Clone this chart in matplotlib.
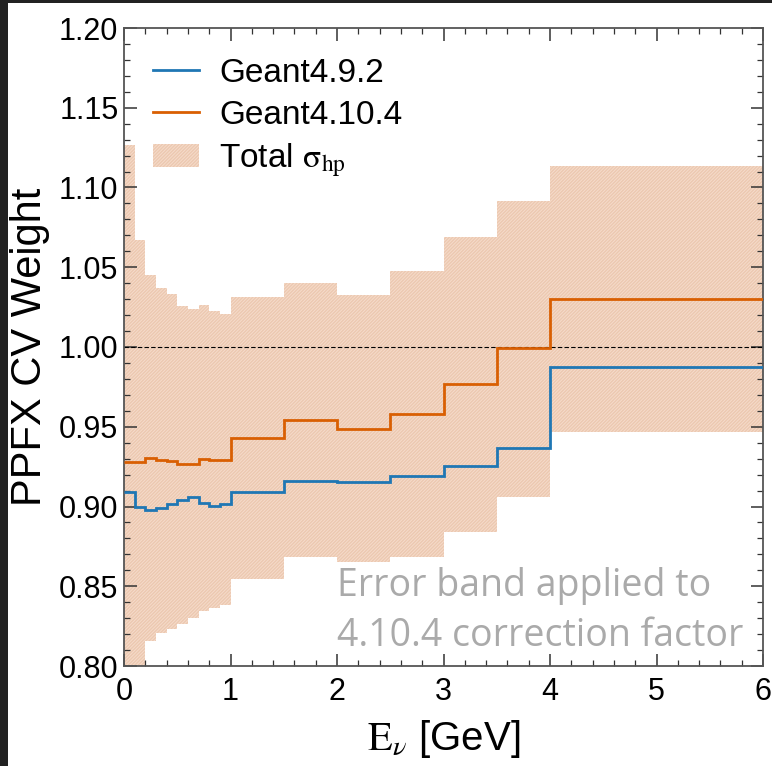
import matplotlib
matplotlib.use("Agg")
import matplotlib.pyplot as plt
from matplotlib.patches import Patch, Rectangle
from matplotlib.lines import Line2D
from matplotlib.ticker import MultipleLocator, FormatStrFormatter

# bin edges in GeV
edges = [0.0, 0.1, 0.2, 0.3, 0.4, 0.5, 0.6, 0.7, 0.8, 0.9, 1.0,
         1.5, 2.0, 2.5, 3.0, 3.5, 4.0, 6.0]

# PPFX CV weights
g4_9_2 = [0.9089, 0.8995, 0.8978, 0.8989, 0.9014, 0.9041, 0.9060, 0.9024, 0.9003, 0.9018,
          0.9094, 0.9160, 0.9155, 0.9189, 0.9256, 0.9367, 0.9877]
g4_10_4 = [0.9281, 0.9277, 0.9302, 0.9293, 0.9283, 0.9265, 0.9268, 0.9300, 0.9292, 0.9292,
           0.9431, 0.9542, 0.9486, 0.9578, 0.9768, 0.9994, 1.0299]

# total hadron production uncertainty band
band_hi = [1.1266, 1.0671, 1.0451, 1.0372, 1.0330, 1.0259, 1.0238, 1.0263, 1.0228, 1.0205,
           1.0315, 1.0399, 1.0324, 1.0476, 1.0690, 1.0917, 1.1135]
band_lo = [0.7800, 0.7900, 0.8159, 0.8210, 0.8234, 0.8263, 0.8301, 0.8343, 0.8362, 0.8384,
           0.8545, 0.8685, 0.8650, 0.8685, 0.8838, 0.9061, 0.9465]

blue = '#1f77b4'
orange = '#d95f02'
band_face = '#f5dccb'
band_hatch = '#ecc8b0'

plt.rcParams['font.family'] = ['Liberation Sans', 'DejaVu Sans']
plt.rcParams['mathtext.fontset'] = 'stix'
plt.rcParams['hatch.linewidth'] = 1.0

fig = plt.figure(figsize=(7.72, 7.66), dpi=100, facecolor='#222222')
# screenshot border: dark strip on the left and top
fig.patches.append(Rectangle((8 / 772, 0), 1, 763 / 766, transform=fig.transFigure,
                             facecolor='white', edgecolor='none', zorder=-10))
ax = fig.add_axes([124 / 772, 100 / 766, 639 / 772, 638 / 766])

ax.stairs(band_hi, edges, baseline=band_lo, fill=True, facecolor=band_face,
          edgecolor=band_hatch, hatch='/' * 10, linewidth=0, zorder=1)
ax.axhline(1.0, color='black', linestyle='--', linewidth=0.8, dashes=(4, 2), zorder=2)
ax.stairs(g4_9_2, edges, baseline=None, color=blue, linewidth=2, zorder=3)
ax.stairs(g4_10_4, edges, baseline=None, color=orange, linewidth=2, zorder=3)

ax.set_xlim(0, 6)
ax.set_ylim(0.80, 1.20)
ax.xaxis.set_major_locator(MultipleLocator(1))
ax.xaxis.set_minor_locator(MultipleLocator(0.2))
ax.yaxis.set_major_locator(MultipleLocator(0.05))
ax.yaxis.set_minor_locator(MultipleLocator(0.01))
ax.yaxis.set_major_formatter(FormatStrFormatter('%.2f'))
ax.tick_params(which='both', direction='in', top=True, right=True, colors='#333333',
               labelcolor='black', labelsize=22)
ax.tick_params(which='major', length=9, width=1.1)
ax.tick_params(which='minor', length=4.5, width=0.9)
ax.tick_params(axis='x', which='major', pad=8)
ax.tick_params(axis='y', which='major', pad=4)
for sp in ax.spines.values():
    sp.set_color('#555555')
    sp.set_linewidth(1.3)

ax.set_ylabel('PPFX CV Weight', fontsize=30, labelpad=6)
ax.set_xlabel(r'$\mathrm{E}_{\nu}$ [GeV]', fontsize=29, labelpad=8)

handles = [Line2D([], [], color=blue, linewidth=2),
           Line2D([], [], color=orange, linewidth=2),
           Patch(facecolor=band_face, edgecolor=band_hatch, hatch='/' * 10, linewidth=0)]
labels = ['Geant4.9.2', 'Geant4.10.4', r'Total $\mathrm{\sigma_{hp}}$']
ax.legend(handles, labels, loc='upper left', bbox_to_anchor=(0.045, 0.953), frameon=False,
          fontsize=24, handlelength=1.4, handletextpad=0.6, labelspacing=0.32,
          borderpad=0, borderaxespad=0)

ax.text(0.334, 0.018, 'Error band applied to\n4.10.4 correction factor', transform=ax.transAxes,
        fontsize=27, color='#aaaaaa', family=['Open Sans', 'DejaVu Sans'],
        ha='left', va='bottom', linespacing=1.38)

fig.savefig('out.png', dpi=100, facecolor=fig.get_facecolor())
